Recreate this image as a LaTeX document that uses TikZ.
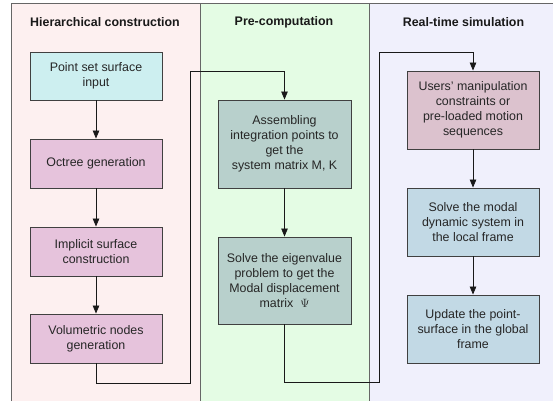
\documentclass[tikz,border=0pt]{standalone}
\usepackage{fontspec}
\setmainfont{Liberation Sans}
\usetikzlibrary{arrows.meta}
\definecolor{bgA}{HTML}{FDF0F0}
\definecolor{bgB}{HTML}{E4FCE4}
\definecolor{bgC}{HTML}{F0F0FC}
\definecolor{fCyan}{HTML}{CDEFF0}
\definecolor{fPink}{HTML}{E6C3DC}
\definecolor{fSage}{HTML}{B8D0CC}
\definecolor{fMauve}{HTML}{DCC2CE}
\definecolor{fBlue}{HTML}{C2D9E5}
\definecolor{edgeC}{HTML}{404040}
\tikzset{
  x=1pt, y=-1pt,
  panel/.style={draw=edgeC!80, line width=0.8pt},
  title/.style={font=\fontsize{12.4}{14}\selectfont\bfseries, text=black!90, anchor=center},
  box/.style={draw=edgeC, line width=0.9pt, align=center, inner sep=2pt,
    font=\fontsize{12.4}{15}\selectfont, text=black!85, minimum width=132pt},
  conn/.style={draw=black!90, line width=0.8pt},
  arr/.style={conn, -{Triangle[length=8pt,width=6.5pt]}},
}
\begin{document}
\begin{tikzpicture}
\useasboundingbox (0,0) rectangle (553,401);
% panels
\fill[bgA] (11,3) rectangle (200,401);
\fill[bgB] (200,3) rectangle (369,401);
\fill[bgC] (369,3) rectangle (553,401);
\draw[panel] (11,401) -- (11,3) -- (553,3);
\draw[panel] (200,3) -- (200,401);
\draw[panel] (369,3) -- (369,401);
% titles
\node[title] (tA) at (105,22) {Hierarchical construction};
\node[title] (tB) at (284,22) {Pre-computation};
\node[title] (tC) at (463.5,22) {Real-time simulation};
% left column
\node[box, fill=fCyan, minimum height=48pt] (b1) at (96,76) {Point set surface\\input};
\node[box, fill=fPink, minimum height=49pt] (b2) at (96,163.5) {Octree generation};
\node[box, fill=fPink, minimum height=49pt] (b3) at (96,251.5) {Implicit surface\\construction};
\node[box, fill=fPink, minimum height=49pt] (b4) at (96,338.5) {Volumetric nodes\\generation};
% middle column
\node[box, fill=fSage, minimum width=133pt, minimum height=88pt] (as) at (284.5,144) {Assembling\\integration points to\\get the\\system matrix M, K};
\node[box, fill=fSage, minimum width=133pt, minimum height=87pt] (eg) at (284.5,280.5) {Solve the eigenvalue\\problem to get the\\Modal displacement\\matrix \ $\Psi$};
% right column
\node[box, fill=fMauve, minimum height=78pt] (us) at (473,110) {Users' manipulation\\constraints or\\pre-loaded motion\\sequences};
\node[box, fill=fBlue, minimum height=68pt] (md) at (473,222) {Solve the modal\\dynamic system in\\the local frame};
\node[box, fill=fBlue, minimum height=68pt] (up) at (473,329) {Update the point-\\surface in the global\\frame};
% arrows
\draw[arr] (b1) -- (b2);
\draw[arr] (b2) -- (b3);
\draw[arr] (b3) -- (b4);
\draw[arr] (as) -- (eg);
\draw[arr] (us) -- (md);
\draw[arr] (md) -- (up);
\coordinate (c1) at (190,383);
\coordinate (c2) at (190,71);
\draw[arr] (b4.south) |- (c1) -- (c2) -| (as.north);
\coordinate (c3) at (379,382);
\coordinate (c4) at (379,52);
\draw[arr] (eg.south) |- (c3) -- (c4) -| (us.north);
\end{tikzpicture}
\end{document}
